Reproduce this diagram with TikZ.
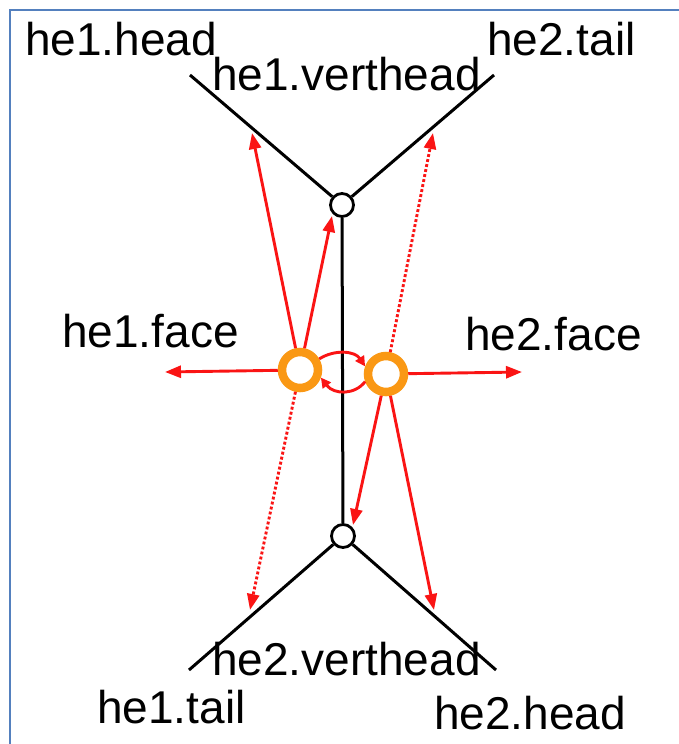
\documentclass[tikz,border=0pt]{standalone}
\usepackage{fontspec}
\setmainfont{Liberation Sans}
\usetikzlibrary{arrows.meta}
\definecolor{frameblue}{RGB}{84,128,190}
\definecolor{heorange}{RGB}{250,152,20}
\definecolor{hered}{RGB}{250,20,20}
\begin{document}
\begin{tikzpicture}[x=1pt,y=-1pt,
  edge/.style={black,line width=3pt},
  vtx/.style={circle,draw=black,line width=2.8pt,minimum size=23pt,inner sep=0pt,fill=white},
  hev/.style={circle,draw=heorange,line width=8.5pt,minimum size=36pt,inner sep=0pt,fill=white},
  ptr/.style={hered,line width=2.9pt,-{Triangle[length=16pt,width=12pt]}},
  dptr/.style={ptr,dash pattern=on 2.9pt off 2.2pt},
  sptr/.style={hered,line width=2.9pt,-{Triangle[length=10pt,width=10pt]}},
  lbl/.style={anchor=base west,inner sep=0pt,font=\fontsize{46}{52}\selectfont}
]
\useasboundingbox (0,0) rectangle (679,744);
\fill[white] (0,0) rectangle (679,744);
% frame
\coordinate (fa) at (10,744);
\coordinate (fb) at (10,10);
\coordinate (fc) at (679,10);
\draw[frameblue,line width=2.2pt] (fa) -- (fb) -- (fc);

% geometry
\coordinate (tl) at (190,75);
\coordinate (tr) at (494,75);
\coordinate (bl) at (189,670);
\coordinate (br) at (496,670);
\node[vtx] (vt) at (342,205) {};
\node[vtx] (vb) at (343,536) {};
\draw[edge] (vt) -- (vb);
\draw[edge] (tl) -- (vt);
\draw[edge] (tr) -- (vt);
\draw[edge] (bl) -- (vb);
\draw[edge] (br) -- (vb);

% targets
\coordinate (t1h) at (252,133);
\coordinate (t2t) at (433,133);
\coordinate (t1t) at (250,610);
\coordinate (t2h) at (434,610);
\coordinate (t1f) at (165,372);
\coordinate (t2f) at (522,372);
\coordinate (t1v) at (332,216);
\coordinate (t2v) at (353,525);

% half-edge nodes
\node[hev] (h1) at (300,370) {};
\node[hev] (h2) at (386,374) {};

% pointers
\draw[ptr] (h1) -- (t1h);
\draw[ptr] (h1) -- (t1v);
\draw[ptr] (h1) -- (t1f);
\draw[dptr] (h1) -- (t1t);
\draw[dptr] (h2) -- (t2t);
\draw[ptr] (h2) -- (t2f);
\draw[ptr] (h2) -- (t2v);
\draw[ptr] (h2) -- (t2h);

% twin arcs
\draw[sptr] (h1.30) .. controls (335,349) and (355,351) .. (h2.160);
\draw[sptr] (h2.200) .. controls (355,395) and (334,395) .. (h1.-20);

% labels
\node[lbl] (l1h) at (25,55) {he1.head};
\node[lbl] (l1v) at (212,90) {he1.verthead};
\node[lbl] (l2t) at (487,55) {he2.tail};
\node[lbl] (l1f) at (62,347) {he1.face};
\node[lbl] (l2f) at (465,350) {he2.face};
\node[lbl] (l2v) at (212,675) {he2.verthead};
\node[lbl] (l1t) at (97,723) {he1.tail};
\node[lbl] (l2h) at (434,729) {he2.head};
\end{tikzpicture}
\end{document}
